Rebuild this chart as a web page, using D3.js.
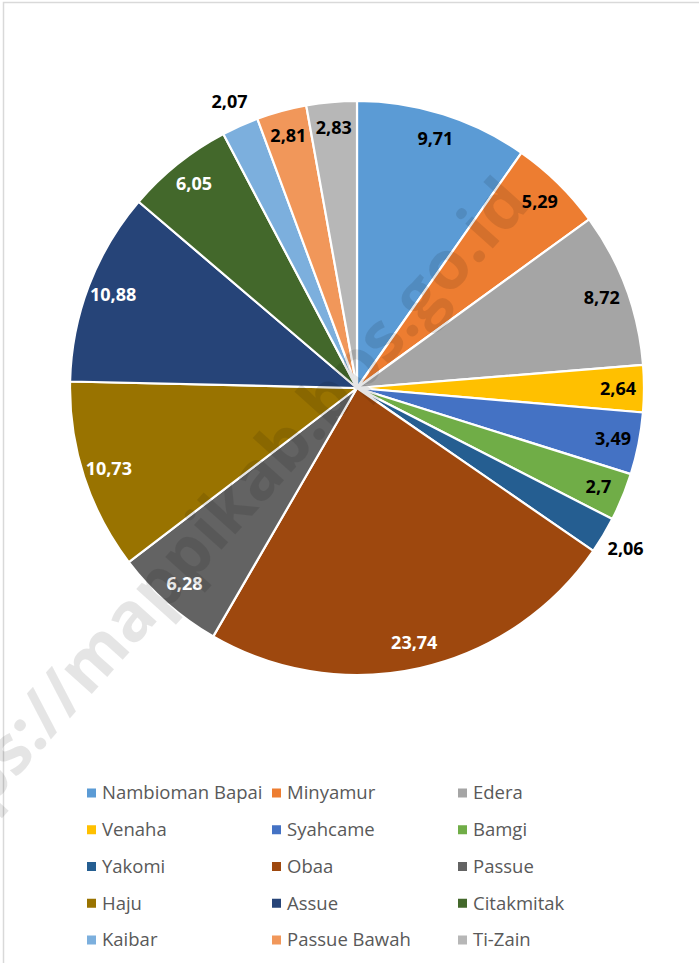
<!DOCTYPE html>
<html>
<head>
<meta charset="utf-8">
<script src="https://cdn.jsdelivr.net/npm/d3@7"></script>
<style>
	body { margin: 0; background: #fff; }
	svg { display: block; font-family: "Open Sans", sans-serif; }
</style>
</head>
<body>
<div id="chart"></div>
<script>
const categories = ["Nambioman Bapai", "Minyamur", "Edera", "Venaha", "Syahcame", "Bamgi", "Yakomi", "Obaa", "Passue", "Haju", "Assue", "Citakmitak", "Kaibar", "Passue Bawah", "Ti-Zain"];
const values = [9.71, 5.29, 8.72, 2.64, 3.49, 2.7, 2.06, 23.74, 6.28, 10.73, 10.88, 6.05, 2.07, 2.81, 2.83];
const palette = ["#5b9bd5", "#ed7d31", "#a5a5a5", "#ffc000", "#4472c4", "#70ad47", "#255e91", "#9e480e", "#636363", "#997300", "#264478", "#43682b", "#7cafdd", "#f1975a", "#b7b7b7"];
const darkSlices = ["Obaa", "Passue", "Haju", "Assue", "Citakmitak"];

const width = 699, height = 963;
const cx = 357, cy = 388, radius = 287;

const svg = d3.select("#chart").append("svg")
	.attr("width", width)
	.attr("height", height);

// chart frame (only top and left edges are in view)
svg.append("rect")
	.attr("x", 3.5).attr("y", 2.5)
	.attr("width", width + 10).attr("height", height + 10)
	.attr("fill", "none")
	.attr("stroke", "#d9d9d9")
	.attr("stroke-width", 1.5);

const color = d3.scaleOrdinal().domain(categories).range(palette);

const pie = d3.pie().sort(null).value((d) => d.value);
const arcs = pie(categories.map((c, i) => ({ name: c, value: values[i] })));

const arc = d3.arc().innerRadius(0).outerRadius(radius);
const labelArc = d3.arc().innerRadius(261).outerRadius(261);
const outerLabelArc = d3.arc().innerRadius(313).outerRadius(313);

const g = svg.append("g").attr("transform", `translate(${cx},${cy})`);

g.append("g")
	.selectAll("path")
	.data(arcs)
	.enter()
	.append("path")
	.attr("d", arc)
	.attr("fill", (d) => color(d.data.name))
	.attr("stroke", "#fff")
	.attr("stroke-width", 2.2)
	.attr("stroke-linejoin", "round");

const fmt = (v) => String(v).replace(".", ",");

g.append("g")
	.selectAll("text")
	.data(arcs)
	.enter()
	.append("text")
	.attr("transform", (d) => {
		const p = d.data.value < 2.1 ? outerLabelArc.centroid(d) : labelArc.centroid(d);
		return `translate(${p[0]},${p[1]})`;
	})
	.attr("text-anchor", "middle")
	.attr("dy", "0.35em")
	.attr("font-size", 18)
	.attr("font-weight", "bold")
	.attr("fill", (d) => (darkSlices.includes(d.data.name) ? "#fff" : "#000"))
	.text((d) => fmt(d.data.value));

// legend, 3 columns
const legendCol = d3.scaleOrdinal().domain([0, 1, 2]).range([87, 272, 458]);
const legendRow = d3.scaleLinear().domain([0, 4]).range([793, 940]);

const legend = svg.append("g")
	.selectAll("g")
	.data(categories)
	.enter()
	.append("g")
	.attr("transform", (d, i) => `translate(${legendCol(i % 3)},${legendRow(Math.floor(i / 3))})`);

legend.append("rect")
	.attr("x", 0).attr("y", -4.5)
	.attr("width", 9).attr("height", 9)
	.attr("fill", (d) => color(d));

legend.append("text")
	.attr("x", 15)
	.attr("dy", "0.35em")
	.attr("font-size", 18.5)
	.attr("fill", "#595959")
	.text((d) => d);

// watermark
svg.append("text")
	.attr("transform", "translate(532,205) rotate(-48)")
	.attr("text-anchor", "end")
	.attr("font-size", 68)
	.attr("font-weight", "bold")
	.attr("fill", "#000")
	.attr("fill-opacity", 0.1)
	.text("https://mappikab.bps.go.id");
</script>
</body>
</html>
